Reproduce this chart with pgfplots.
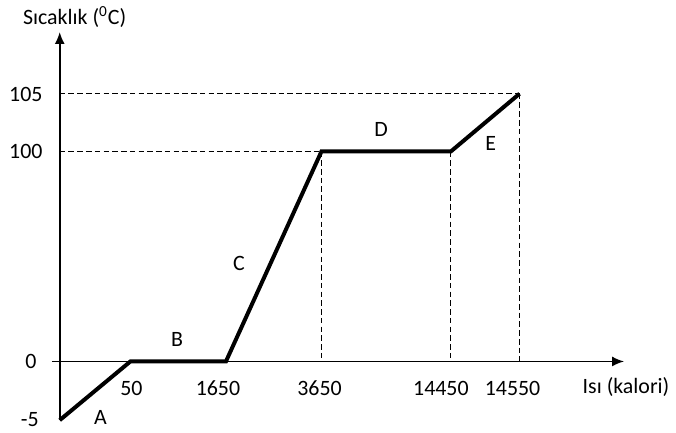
\documentclass[border=0pt]{standalone}
\usepackage{fontspec}
\setmainfont{Carlito}
\usepackage{pgfplots}
\pgfplotsset{compat=1.18}
\usetikzlibrary{arrows.meta}

\begin{document}
\begin{tikzpicture}
  \begin{axis}[
    hide axis,
    scale only axis,
    width=338pt,
    height=217pt,
    xmin=-60, xmax=616,
    ymin=-71, ymax=363,
    clip=false,
    font=\fontsize{11}{13}\selectfont
  ]
    % frame for the bounding box
    \addplot[draw=none] coordinates {(-60,-71) (616,363)};

    % axes with arrows
    \addplot[black, line width=0.8pt, -{Latex[length=6pt,width=5pt]}]
      coordinates {(-8,0) (567,0)};
    \addplot[black, line width=0.8pt, -{Latex[length=6pt,width=5pt]}]
      coordinates {(0,-59) (0,331)};

    % dashed guide lines
    \addplot[black, line width=0.55pt, dash pattern=on 2.8pt off 1.6pt]
      coordinates {(0,269) (462,269)};
    \addplot[black, line width=0.55pt, dash pattern=on 2.8pt off 1.6pt]
      coordinates {(0,211) (263,211)};
    \addplot[black, line width=0.55pt, dash pattern=on 2.8pt off 1.6pt]
      coordinates {(263,211) (263,0)};
    \addplot[black, line width=0.55pt, dash pattern=on 2.8pt off 1.6pt]
      coordinates {(393,211) (393,0)};
    \addplot[black, line width=0.55pt, dash pattern=on 2.8pt off 1.6pt]
      coordinates {(462,269) (462,0)};

    % heating curve
    \addplot[black, line width=2pt, line join=miter] coordinates {
      (0,-59) (71,0) (167,0) (263,211) (393,211) (462,269)
    };

    % tick labels
    \node at (axis cs:-34,268) {105};
    \node at (axis cs:-34,211) {100};
    \node at (axis cs:-29,0) {0};
    \node at (axis cs:-30,-58) {-5};
    \node at (axis cs:72,-27) {50};
    \node at (axis cs:159,-27) {1650};
    \node at (axis cs:261,-27) {3650};
    \node at (axis cs:383,-27) {14450};
    \node at (axis cs:455,-27) {14550};

    % axis titles
    \node at (axis cs:15,346) {Sıcaklık (\textsuperscript{0}C)};
    \node at (axis cs:569,-26) {Isı (kalori)};

    % segment letters
    \node at (axis cs:41,-56) {A};
    \node at (axis cs:118,22) {B};
    \node at (axis cs:180,98) {C};
    \node at (axis cs:323,233) {D};
    \node at (axis cs:433,219) {E};
  \end{axis}
\end{tikzpicture}
\end{document}
